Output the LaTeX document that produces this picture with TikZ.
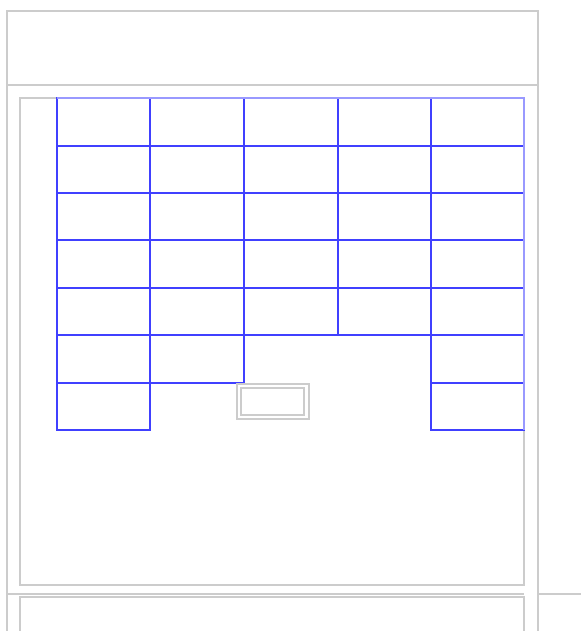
\documentclass[tikz,border=0pt]{standalone}
\begin{document}
\begin{tikzpicture}[x=1pt,y=-1pt,
  frame/.style={draw=black!20,line width=1.4pt},
  cell/.style={draw=blue!75,line width=1.1pt},
  edgecell/.style={draw=blue!40,line width=1.1pt}]
\useasboundingbox (0,0) rectangle (581,631);
% outer frame
\draw[frame] (7,640) -- (7,11) -- (538,11) -- (538,640);
\draw[frame] (7,85) -- (538,85);
\draw[frame] (7,594) -- (524,594);
\draw[frame] (538,594) -- (581,594);
% inner panels
\draw[frame] (20,98) rectangle (524,585);
\draw[frame] (20,640) -- (20,597) -- (524,597) -- (524,640);
% grid cells
\foreach \r/\ya/\yb in {0/98/146,1/146/193,2/193/240,3/240/288,4/288/335}{
  \foreach \c/\xa/\xb in {0/57/150,1/150/244,2/244/338,3/338/431,4/431/524}{
    \draw[cell] (\xa,\ya) rectangle (\xb,\yb);
  }
}
\draw[cell] (57,335) rectangle (150,383);
\draw[cell] (150,335) rectangle (244,383);
\draw[cell] (431,335) rectangle (524,383);
\draw[cell] (57,383) rectangle (150,430);
\draw[cell] (431,383) rectangle (524,430);
% lines lying on the grey panel edge look paler
\draw[edgecell] (57,98) -- (524,98) -- (524,430);
% small box
\draw[frame,line width=1.1pt] (237,384) rectangle (309,419);
\draw[frame,line width=1.1pt] (241,388) rectangle (304,415);
\end{tikzpicture}
\end{document}
